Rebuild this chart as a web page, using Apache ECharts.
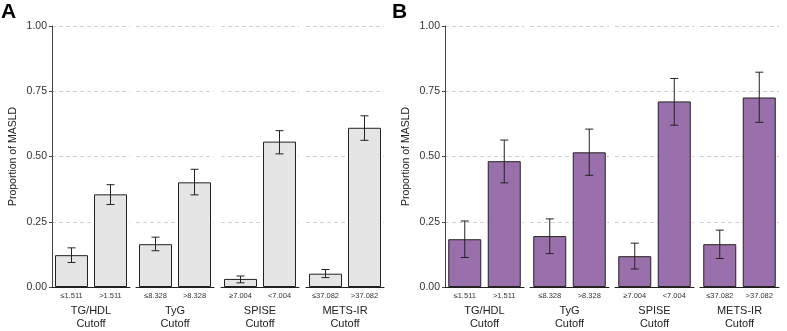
<!DOCTYPE html>
<html>
<head>
<meta charset="utf-8">
<script src="https://cdn.jsdelivr.net/npm/echarts@6/dist/echarts.min.js"></script>
<style>
  html, body { margin: 0; padding: 0; background: #fff; }
  #chart { width: 787px; height: 331px; }
</style>
</head>
<body>
<div id="chart"></div>
<script>
// facets and bin labels
var groups = ['TG/HDL', 'TyG', 'SPISE', 'METS-IR'];
var binLabels = [['≤1.511', '>1.511'], ['≤8.328', '>8.328'], ['≥7.004', '<7.004'], ['≤37.082', '>37.082']];
var yTicks = [0, 0.25, 0.5, 0.75, 1];

// panel A
var propA = [[0.122, 0.355], [0.164, 0.401], [0.031, 0.557], [0.051, 0.610]];
var lowA  = [[0.094, 0.316], [0.139, 0.353], [0.016, 0.510], [0.036, 0.562]];
var highA = [[0.150, 0.392], [0.191, 0.451], [0.042, 0.599], [0.067, 0.656]];

// panel B
var propB = [[0.183, 0.482], [0.195, 0.516], [0.118, 0.711], [0.164, 0.726]];
var lowB  = [[0.113, 0.399], [0.128, 0.428], [0.069, 0.620], [0.109, 0.631]];
var highB = [[0.253, 0.563], [0.261, 0.605], [0.168, 0.799], [0.218, 0.823]];

var chart = echarts.init(document.getElementById('chart'));

var panels = [
  {lefts: [52, 136, 221, 306], width: 78, prop: propA, low: lowA, high: highA, color: '#e5e5e5'},
  {lefts: [445, 530, 615, 700], width: 79, prop: propB, low: lowB, high: highB, color: '#9970ab'}
];

var grid = [], xAxis = [], yAxis = [], series = [];
var k = 0;
panels.forEach(function (p, pi) {
  for (var g = 0; g < 4; g++) {
    grid.push({left: p.lefts[g], width: p.width, top: 26, height: 261, outerBoundsMode: 'none', containLabel: false});
    xAxis.push({
      type: 'category', gridIndex: k, data: binLabels[g],
      axisLine: {lineStyle: {color: '#222', width: 1}},
      axisTick: {show: false},
      axisLabel: {fontSize: 7.5, color: '#333', margin: 5, interval: 0},
      name: groups[g] + '\nCutoff', nameLocation: 'middle', nameGap: 17,
      nameTextStyle: {fontSize: 11, color: '#222', lineHeight: 13, verticalAlign: 'top'}
    });
    yAxis.push({
      type: 'value', gridIndex: k, min: 0, max: 1, interval: 0.25,
      axisLine: {show: g === 0, lineStyle: {color: '#444'}},
      axisTick: {show: g === 0, length: 3, lineStyle: {color: '#444'}},
      axisLabel: {show: g === 0, fontSize: 10.5, color: '#333', margin: 5,
        formatter: function (v) { return yTicks.indexOf(v) >= 0 ? v.toFixed(2) : ''; }},
      splitLine: {lineStyle: {type: [4, 3], color: '#d0d0d0'}},
      name: g === 0 ? 'Proportion of MASLD' : '', nameLocation: 'middle', nameGap: 33,
      nameTextStyle: {fontSize: 10.5, color: '#222'}
    });
    series.push({
      type: 'bar', xAxisIndex: k, yAxisIndex: k, barWidth: 33,
      data: p.prop[g],
      itemStyle: {color: p.color, borderColor: '#222', borderWidth: 1},
      silent: true
    });
    var errData = [0, 1].map(function (i) { return [i, p.low[g][i], p.high[g][i]]; });
    series.push({
      type: 'custom', xAxisIndex: k, yAxisIndex: k, data: errData, z: 10,
      renderItem: function (params, api) {
        var x = api.value(0);
        var lo = api.coord([x, api.value(1)]);
        var hi = api.coord([x, api.value(2)]);
        var hw = 4;
        var st = {stroke: '#222', lineWidth: 1};
        return {type: 'group', children: [
          {type: 'line', shape: {x1: lo[0], y1: lo[1], x2: hi[0], y2: hi[1]}, style: st},
          {type: 'line', shape: {x1: lo[0] - hw, y1: lo[1], x2: lo[0] + hw, y2: lo[1]}, style: st},
          {type: 'line', shape: {x1: hi[0] - hw, y1: hi[1], x2: hi[0] + hw, y2: hi[1]}, style: st}
        ]};
      }
    });
    k++;
  }
});

chart.setOption({
  animation: false,
  textStyle: {fontFamily: 'Liberation Sans, Arial, sans-serif'},
  title: [
    {text: 'A', left: 1, top: 2, padding: 0, textStyle: {fontSize: 21, fontWeight: 'bold', color: '#000'}},
    {text: 'B', left: 392, top: 2, padding: 0, textStyle: {fontSize: 21, fontWeight: 'bold', color: '#000'}}
  ],
  grid: grid,
  xAxis: xAxis,
  yAxis: yAxis,
  series: series
});
</script>
</body>
</html>
